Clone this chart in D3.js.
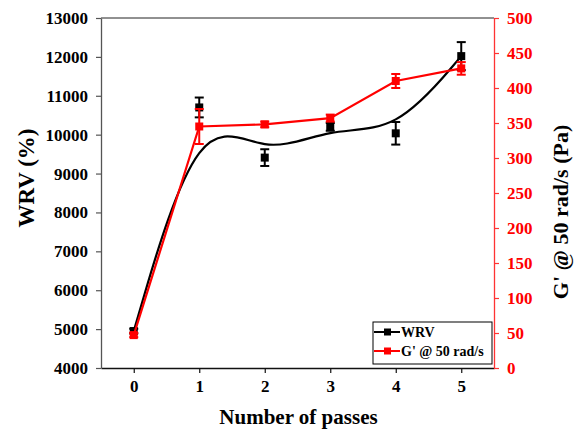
<!DOCTYPE html>
<html>
<head>
<meta charset="utf-8">
<script src="https://cdn.jsdelivr.net/npm/d3@7"></script>
<style>
  body { margin: 0; background: #fff; }
  text { font-family: "Liberation Serif", "Times New Roman", serif; font-weight: bold; }
</style>
</head>
<body>
<svg id="chart" width="575" height="432"></svg>
<script>
// passes
const passes = [0, 1, 2, 3, 4, 5]
// WRV (%) and its error
const wrv = [4950, 10700, 9410, 10200, 10035, 12020]
const wrvErr = [60, 255, 215, 100, 290, 360]
// G' @ 50 rad/s (Pa) and its error
const gPrime = [47, 345, 348, 357, 410, 428]
const gErr = [3, 25, 4, 5, 10, 9]

const xTicks = [0, 1, 2, 3, 4, 5]
const yLeftTicks = d3.range(4000, 13001, 1000)
const yRightTicks = d3.range(0, 501, 50)

let svg = d3.select("#chart")

let L = 101, R = 494, T = 18, B = 368
let x = d3.scaleLinear().domain([-0.5, 5.5]).range([L, R])
let yL = d3.scaleLinear().domain([4000, 13000]).range([B, T])
let yR = d3.scaleLinear().domain([0, 500]).range([B, T])

//top frame line
svg.append("line").attr("x1", L).attr("x2", R).attr("y1", T).attr("y2", T)
  .attr("stroke", "#222").attr("stroke-width", 1)

//bottom axis
let gx = svg.append("g").attr("transform", `translate(0,${B})`)
gx.call(d3.axisBottom(x).tickValues(d3.range(-0.5, 5.51, 0.5)).tickSize(3).tickFormat(""))
gx.call(d3.axisBottom(x).tickValues(xTicks).tickSize(5).tickSizeOuter(0).tickFormat(d3.format("d")))
gx.selectAll("path").attr("stroke", "#111").attr("stroke-width", 1.3)
gx.selectAll("line").attr("stroke", "#111").attr("stroke-width", 1.2)
gx.selectAll("text").attr("font-size", 17).attr("fill", "#000").attr("dy", "0.95em")

//left axis
let gl = svg.append("g").attr("transform", `translate(${L},0)`)
gl.call(d3.axisLeft(yL).tickValues(d3.range(4000, 13001, 500)).tickSize(3).tickFormat(""))
gl.call(d3.axisLeft(yL).tickValues(yLeftTicks).tickSize(5).tickSizeOuter(0).tickFormat(d3.format("d")))
gl.selectAll("path").attr("stroke", "#555").attr("stroke-width", 1.3)
gl.selectAll("line").attr("stroke", "#555").attr("stroke-width", 1.2)
gl.selectAll("text").attr("font-size", 17).attr("fill", "#000").attr("x", -13)

//right axis
let gr = svg.append("g").attr("transform", `translate(${R},0)`)
gr.call(d3.axisRight(yR).tickValues(d3.range(0, 501, 25)).tickSize(3).tickFormat(""))
gr.call(d3.axisRight(yR).tickValues(yRightTicks).tickSize(5).tickSizeOuter(0).tickFormat(d3.format("d")))
gr.selectAll("path").attr("stroke", "#f33").attr("stroke-width", 1.3)
gr.selectAll("line").attr("stroke", "#f33").attr("stroke-width", 1.2)
gr.selectAll("text").attr("font-size", 17).attr("fill", "red").attr("x", 13)

//axis titles
svg.append("text").attr("x", (L + R) / 2 + 1).attr("y", 424).attr("text-anchor", "middle")
  .attr("font-size", 21).text("Number of passes")
svg.append("text").attr("transform", "translate(34,178) rotate(-90)").attr("text-anchor", "middle")
  .attr("font-size", 23).text("WRV (%)")
svg.append("text").attr("transform", "translate(568,212) rotate(-90)").attr("text-anchor", "middle")
  .attr("font-size", 22).text("G' @ 50 rad/s (Pa)")

//series drawing
let drawSeries = (vals, errs, y, color, curve) => {
  let g = svg.append("g")
  let pts = passes.map((p, i) => [x(p), y(vals[i])])
  g.append("path").attr("d", d3.line().curve(curve)(pts))
    .attr("fill", "none").attr("stroke", color).attr("stroke-width", 2.2)
  passes.forEach((p, i) => {
    let cx = x(p), top = y(vals[i] + errs[i]), bot = y(vals[i] - errs[i])
    g.append("line").attr("x1", cx).attr("x2", cx).attr("y1", top).attr("y2", bot)
      .attr("stroke", color).attr("stroke-width", 2)
    ;[top, bot].forEach(yy => g.append("line").attr("x1", cx - 4.5).attr("x2", cx + 4.5)
      .attr("y1", yy).attr("y2", yy).attr("stroke", color).attr("stroke-width", 2))
    g.append("rect").attr("x", cx - 4).attr("y", y(vals[i]) - 4).attr("width", 8).attr("height", 8)
      .attr("fill", color)
  })
}
drawSeries(wrv, wrvErr, yL, "#000", d3.curveBasis)
drawSeries(gPrime, gErr, yR, "#f00", d3.curveLinear)

//legend
let lg = svg.append("g")
lg.append("rect").attr("x", 373).attr("y", 322).attr("width", 119).attr("height", 42)
  .attr("fill", "#fff").attr("stroke", "#000").attr("stroke-width", 1)
;[["WRV", "#000"], ["G' @ 50 rad/s", "#f00"]].forEach(([name, c], i) => {
  let yy = 332 + i * 19
  lg.append("line").attr("x1", 374).attr("x2", 400).attr("y1", yy).attr("y2", yy)
    .attr("stroke", c).attr("stroke-width", 2)
  lg.append("rect").attr("x", 384).attr("y", yy - 3.5).attr("width", 7).attr("height", 7).attr("fill", c)
  lg.append("text").attr("x", 401).attr("y", yy + 5).attr("font-size", 14).text(name)
})
</script>
</body>
</html>
